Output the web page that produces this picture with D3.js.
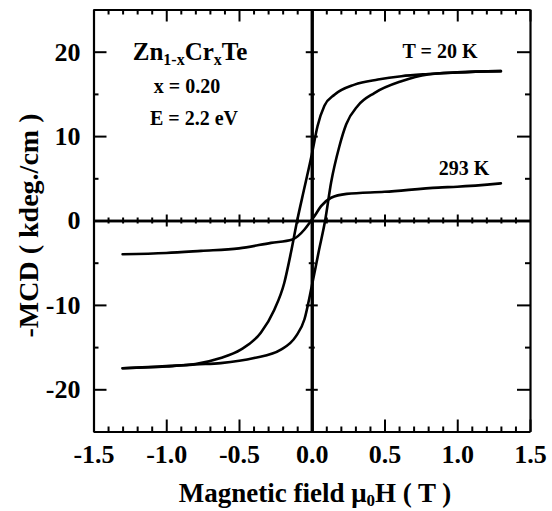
<!DOCTYPE html>
<html>
<head>
<meta charset="utf-8">
<script src="https://cdn.jsdelivr.net/npm/d3@7"></script>
<style>
  html, body { margin: 0; padding: 0; background: #fff; }
  svg { display: block; }
  text { font-family: "Liberation Serif", "Times New Roman", serif; font-weight: bold; fill: #000; }
</style>
</head>
<body>
<div id="chart"></div>
<script>
// Axis ticks
const fieldTicks = [-1.5, -1.0, -0.5, 0.0, 0.5, 1.0, 1.5];
const mcdTicks = [-20, -10, 0, 10, 20];
const fieldMinor = [-1.4, -1.3, -1.2, -1.1, -0.9, -0.8, -0.7, -0.6, -0.4, -0.3, -0.2, -0.1,
                    0.1, 0.2, 0.3, 0.4, 0.6, 0.7, 0.8, 0.9, 1.1, 1.2, 1.3, 1.4];
const mcdMinor = [-25, -15, -5, 5, 15, 25];

// T = 20 K, field sweeping down (from +1.3 T), listed in increasing field
const field20Down = [-1.3, -1.0, -0.8, -0.626, -0.488, -0.35, -0.258, -0.189, -0.143, -0.10, -0.05, 0.0, 0.04, 0.087, 0.156, 0.294, 0.455, 0.616, 0.8, 1.0, 1.3];
const mcd20Down   = [-17.5, -17.25, -17.0, -16.3, -15.3, -13.3, -10.6, -7.4, -3.8, 0.0, 3.9, 7.8, 11.2, 13.6, 14.9, 16.1, 16.7, 17.1, 17.35, 17.55, 17.7];

// T = 20 K, field sweeping up (from -1.3 T)
const field20Up = [-1.3, -1.0, -0.8, -0.626, -0.396, -0.212, -0.108, -0.05, 0.0, 0.05, 0.092, 0.133, 0.19, 0.237, 0.317, 0.43, 0.616, 0.8, 1.0, 1.3];
const mcd20Up   = [-17.5, -17.3, -17.05, -16.9, -16.3, -15.3, -13.7, -11.7, -7.8, -3.5, 0.0, 4.5, 8.8, 11.4, 13.6, 15.1, 16.5, 17.3, 17.55, 17.7];

// T = 293 K
const field293 = [-1.3, -1.0, -0.76, -0.5, -0.28, -0.133, -0.05, -0.016, 0.018, 0.064, 0.133, 0.24, 0.5, 0.87, 1.0, 1.3];
const mcd293   = [-4.0, -3.85, -3.6, -3.3, -2.65, -2.25, -1.07, -0.3, 0.5, 1.7, 2.7, 3.15, 3.4, 3.9, 4.0, 4.4];

const W = 552, H = 511;
const plotLeft = 93.5, plotRight = 530, plotTop = 9.5, plotBottom = 431.5;

const svg = d3.select("#chart").append("svg")
  .attr("width", W).attr("height", H);

const x = d3.scaleLinear().domain([-1.5, 1.5]).range([plotLeft, plotRight]);
const y = d3.scaleLinear().domain([-25, 25]).range([plotBottom, plotTop]);

const fmtX = d => d.toFixed(1);
const fmtY = d => String(d);

function styleAxis(g, width) {
  g.selectAll("path.domain").attr("stroke", "#000").attr("stroke-width", width);
  g.selectAll(".tick line").attr("stroke", "#000").attr("stroke-width", 2);
}

// Frame axes: ticks pointing inward
const gB = svg.append("g").attr("transform", `translate(0,${plotBottom})`)
  .call(d3.axisBottom(x).tickValues(fieldTicks).tickSizeInner(-12).tickSizeOuter(0).tickPadding(13).tickFormat(fmtX));
gB.selectAll("text").attr("font-size", 26);
styleAxis(gB, 2.2);
svg.append("g").attr("transform", `translate(0,${plotBottom})`)
  .call(d3.axisBottom(x).tickValues(fieldMinor).tickSize(-5).tickFormat(""))
  .call(g => { g.select(".domain").remove(); styleAxis(g, 2); });

const gT = svg.append("g").attr("transform", `translate(0,${plotTop})`)
  .call(d3.axisTop(x).tickValues(fieldTicks).tickSizeInner(-12).tickSizeOuter(0).tickFormat(""));
styleAxis(gT, 2.2);
svg.append("g").attr("transform", `translate(0,${plotTop})`)
  .call(d3.axisTop(x).tickValues(fieldMinor).tickSize(-5).tickFormat(""))
  .call(g => { g.select(".domain").remove(); styleAxis(g, 2); });

const gL = svg.append("g").attr("transform", `translate(${plotLeft},0)`)
  .call(d3.axisLeft(y).tickValues(mcdTicks).tickSizeInner(-13).tickSizeOuter(0).tickPadding(13).tickFormat(fmtY));
gL.selectAll("text").attr("font-size", 26);
styleAxis(gL, 2.2);
svg.append("g").attr("transform", `translate(${plotLeft},0)`)
  .call(d3.axisLeft(y).tickValues(mcdMinor).tickSize(-5).tickFormat(""))
  .call(g => { g.select(".domain").remove(); styleAxis(g, 2); });

const gR = svg.append("g").attr("transform", `translate(${plotRight},0)`)
  .call(d3.axisRight(y).tickValues(mcdTicks).tickSizeInner(-13).tickSizeOuter(0).tickFormat(""));
styleAxis(gR, 2.2);
svg.append("g").attr("transform", `translate(${plotRight},0)`)
  .call(d3.axisRight(y).tickValues(mcdMinor).tickSize(-5).tickFormat(""))
  .call(g => { g.select(".domain").remove(); styleAxis(g, 2); });

// Zero lines through the plot, with ticks crossing them
const innerField = fieldTicks.filter(d => Math.abs(d) < 1.5);
[d3.axisBottom, d3.axisTop].forEach(ax => {
  svg.append("g").attr("transform", `translate(0,${y(0)})`)
    .call(ax(x).tickValues(innerField).tickSizeInner(6).tickSizeOuter(0).tickFormat(""))
    .call(g => styleAxis(g, 2.4));
  svg.append("g").attr("transform", `translate(0,${y(0)})`)
    .call(ax(x).tickValues(fieldMinor).tickSize(3).tickFormat(""))
    .call(g => { g.select(".domain").remove(); styleAxis(g, 2); });
});
const innerMcd = mcdTicks.filter(d => d !== 0);
const innerMcdMinor = mcdMinor.filter(d => Math.abs(d) < 25);
[d3.axisLeft, d3.axisRight].forEach(ax => {
  svg.append("g").attr("transform", `translate(${x(0)},0)`)
    .call(ax(y).tickValues(innerMcd).tickSizeInner(6).tickSizeOuter(0).tickFormat(""))
    .call(g => styleAxis(g, 3));
  svg.append("g").attr("transform", `translate(${x(0)},0)`)
    .call(ax(y).tickValues(innerMcdMinor).tickSize(3).tickFormat(""))
    .call(g => { g.select(".domain").remove(); styleAxis(g, 2); });
});

// Curves
const line = d3.line()
  .x(d => x(d[0]))
  .y(d => y(d[1]))
  .curve(d3.curveMonotoneX);

const series = [
  d3.zip(field20Down, mcd20Down),
  d3.zip(field20Up, mcd20Up),
  d3.zip(field293, mcd293)
];
svg.append("g").selectAll("path").data(series).join("path")
  .attr("d", line)
  .attr("fill", "none")
  .attr("stroke", "#000")
  .attr("stroke-width", 2.6)
  .attr("stroke-linejoin", "round")
  .attr("stroke-linecap", "round");

// Annotations
const comp = svg.append("text").attr("x", 190).attr("y", 60)
  .attr("text-anchor", "middle").attr("font-size", 25);
comp.append("tspan").text("Zn");
comp.append("tspan").attr("font-size", 16).attr("dy", 5).text("1-x");
comp.append("tspan").attr("dy", -5).text("Cr");
comp.append("tspan").attr("font-size", 16).attr("dy", 5).text("x");
comp.append("tspan").attr("dy", -5).text("Te");

svg.append("text").attr("x", 187).attr("y", 93)
  .attr("text-anchor", "middle").attr("font-size", 20).text("x = 0.20");
svg.append("text").attr("x", 194).attr("y", 125)
  .attr("text-anchor", "middle").attr("font-size", 20).text("E = 2.2 eV");
svg.append("text").attr("x", 440).attr("y", 58)
  .attr("text-anchor", "middle").attr("font-size", 20).text("T = 20 K");
svg.append("text").attr("x", 464).attr("y", 175)
  .attr("text-anchor", "middle").attr("font-size", 20).text("293 K");

// Axis titles
const xt = svg.append("text").attr("x", 315).attr("y", 502)
  .attr("text-anchor", "middle").attr("font-size", 27);
xt.append("tspan").text("Magnetic field \u03bc");
xt.append("tspan").attr("font-size", 17).attr("dy", 4).text("0");
xt.append("tspan").attr("dy", -4).text("H ( T )");

svg.append("text")
  .attr("transform", `translate(38,${(111 + 340) / 2}) rotate(-90)`)
  .attr("text-anchor", "middle").attr("font-size", 28)
  .text("-MCD ( kdeg./cm )");
</script>
</body>
</html>
